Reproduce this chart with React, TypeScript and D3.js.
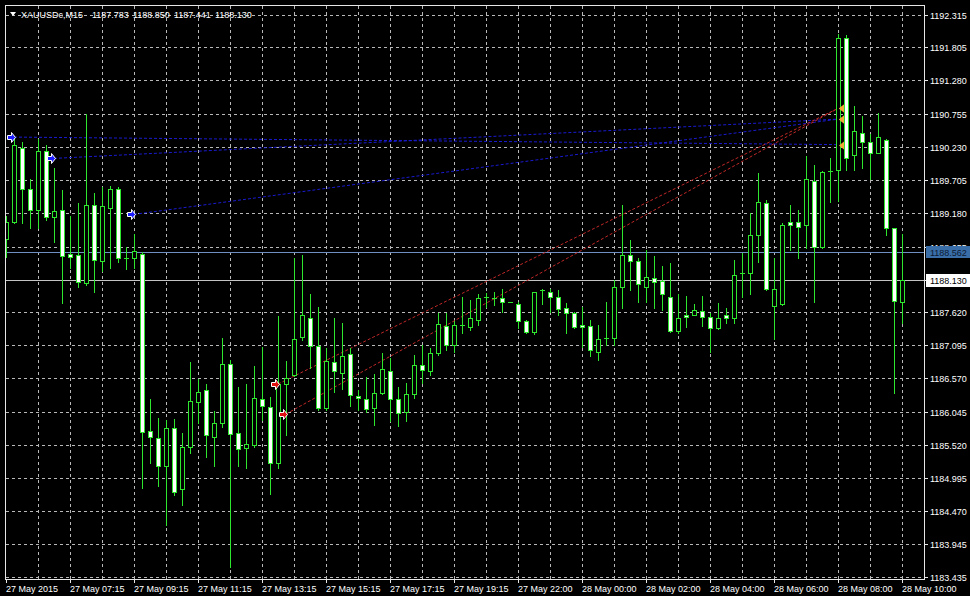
import React from "react";
import * as d3 from "d3";

const opens = [
  1188.78, 1189.05, 1190.22, 1189.56, 1189.23, 1190.16, 1189.12, 1189.24, 1188.54, 1188.52,
  1188.08, 1189.31, 1188.43, 1189.27, 1189.57, 1188.48, 1188.47, 1188.53, 1185.74, 1185.62,
  1185.19, 1185.79, 1184.82, 1185.48, 1186.2, 1186.38, 1185.65, 1185.86, 1186.79, 1185.7,
  1185.47, 1185.51, 1186.25, 1186.11, 1185.24, 1186.48, 1186.62, 1187.22, 1187.53, 1187.08,
  1186.1, 1186.83, 1186.65, 1186.95, 1186.29, 1186.24, 1186.1, 1186.34, 1186.68, 1186.24,
  1186.04, 1186.32, 1186.78, 1186.68, 1186.97, 1187.4, 1187.1, 1187.41, 1187.39, 1187.5,
  1187.85, 1187.84, 1187.84, 1187.77, 1187.74, 1187.48, 1187.31, 1187.96, 1187.94, 1187.86,
  1187.68, 1187.6, 1187.42, 1187.4, 1186.99, 1187.21, 1187.21, 1188.02, 1188.52, 1188.42,
  1188.02, 1188.15, 1188.11, 1187.86, 1187.32, 1187.57, 1187.58, 1187.64, 1187.54, 1187.36,
  1187.57, 1187.52, 1188.24, 1188.24, 1188.84, 1189.34, 1187.72, 1187.74, 1189.05, 1189.04,
  1188.99, 1189.69, 1188.64, 1189.85, 1189.86, 1191.95, 1190.1, 1190.45, 1190.3, 1190.14,
  1190.34, 1188.94, 1187.783,
];
const highs = [
  1189.13, 1190.4, 1190.3, 1189.73, 1190.36, 1190.26, 1189.89, 1189.55, 1189.14, 1189.34,
  1190.75, 1189.5, 1189.59, 1189.61, 1189.59, 1188.65, 1188.86, 1188.57, 1186.24, 1185.94,
  1185.91, 1185.93, 1185.71, 1186.83, 1186.56, 1186.48, 1186.06, 1187.21, 1186.86, 1186.44,
  1186.48, 1186.77, 1187.07, 1186.28, 1187.55, 1186.85, 1188.47, 1188.52, 1187.9, 1187.7,
  1187.05, 1187.52, 1187.45, 1187.05, 1186.39, 1186.59, 1186.64, 1186.97, 1186.89, 1186.44,
  1186.5, 1186.94, 1187.1, 1187.05, 1187.6, 1187.61, 1187.47, 1187.85, 1187.81, 1187.9,
  1187.92, 1187.94, 1187.98, 1187.77, 1187.78, 1187.5, 1187.94, 1187.98, 1187.99, 1187.97,
  1187.76, 1187.62, 1187.7, 1187.5, 1187.42, 1187.77, 1188.12, 1189.31, 1188.76, 1188.47,
  1188.6, 1188.5, 1188.35, 1188.4, 1187.9, 1187.87, 1187.74, 1187.87, 1187.61, 1187.76,
  1187.68, 1188.44, 1188.55, 1189.19, 1189.81, 1189.39, 1188.48, 1189.03, 1189.31, 1189.23,
  1190.08, 1189.95, 1189.85, 1190.05, 1192.01, 1192.0, 1190.88, 1190.72, 1190.44, 1190.77,
  1190.35, 1188.94, 1188.85,
];
const lows = [
  1188.49, 1189.03, 1189.03, 1188.94, 1188.95, 1189.07, 1188.73, 1187.76, 1188.31, 1188.02,
  1188.05, 1187.94, 1188.26, 1188.31, 1188.41, 1188.3, 1188.31, 1184.83, 1185.24, 1184.87,
  1184.25, 1184.73, 1184.57, 1185.39, 1185.87, 1185.33, 1185.19, 1185.8, 1183.59, 1185.19,
  1185.16, 1185.49, 1185.91, 1184.75, 1185.16, 1185.68, 1186.6, 1187.18, 1186.73, 1186.07,
  1186.07, 1186.36, 1186.41, 1186.13, 1186.07, 1186.04, 1185.83, 1186.32, 1185.89, 1185.82,
  1185.89, 1186.26, 1186.5, 1186.62, 1186.94, 1187.02, 1186.99, 1187.28, 1187.33, 1187.41,
  1187.7, 1187.73, 1187.62, 1187.77, 1187.36, 1187.29, 1187.27, 1187.75, 1187.62, 1187.57,
  1187.29, 1187.36, 1187.07, 1186.93, 1186.86, 1187.1, 1187.1, 1187.68, 1187.97, 1187.78,
  1187.78, 1187.69, 1187.65, 1187.31, 1187.29, 1187.38, 1187.57, 1187.4, 1186.99, 1187.35,
  1187.45, 1187.44, 1187.86, 1187.9, 1188.41, 1187.97, 1187.2, 1187.73, 1188.6, 1188.48,
  1188.63, 1187.78, 1188.63, 1189.36, 1189.37, 1189.86, 1189.86, 1189.89, 1189.73, 1190.13,
  1188.84, 1186.34, 1187.441,
];
const closes = [
  1189.05, 1190.26, 1189.57, 1189.23, 1190.16, 1189.12, 1189.22, 1188.5, 1188.49, 1188.1,
  1189.31, 1188.44, 1189.29, 1189.57, 1188.47, 1188.48, 1188.58, 1185.72, 1185.65, 1185.19,
  1185.78, 1184.77, 1185.48, 1186.22, 1186.36, 1185.67, 1185.86, 1186.79, 1185.69, 1185.45,
  1185.54, 1186.26, 1186.13, 1185.24, 1186.48, 1186.57, 1187.19, 1187.57, 1187.08, 1186.1,
  1186.84, 1186.68, 1186.92, 1186.31, 1186.26, 1186.08, 1186.34, 1186.72, 1186.24, 1186.03,
  1186.32, 1186.78, 1186.7, 1186.97, 1187.43, 1187.1, 1187.41, 1187.41, 1187.52, 1187.84,
  1187.85, 1187.84, 1187.77, 1187.77, 1187.48, 1187.3, 1187.93, 1187.96, 1187.86, 1187.66,
  1187.6, 1187.39, 1187.39, 1187.02, 1187.19, 1187.21, 1188.02, 1188.52, 1188.43, 1188.06,
  1188.17, 1188.09, 1187.9, 1187.32, 1187.52, 1187.54, 1187.65, 1187.54, 1187.37, 1187.52,
  1187.52, 1188.21, 1188.24, 1188.84, 1189.36, 1187.98, 1187.99, 1188.99, 1188.99, 1188.96,
  1189.72, 1188.65, 1189.84, 1189.85, 1191.95, 1190.05, 1190.48, 1190.3, 1190.14, 1190.38,
  1188.94, 1187.8, 1188.13,
];

const priceTicks = [
  1192.315, 1191.805, 1191.28, 1190.755, 1190.23, 1189.705, 1189.18, 1188.655, 1188.13,
  1187.62, 1187.095, 1186.57, 1186.045, 1185.52, 1184.995, 1184.47, 1183.945, 1183.435,
];
const timeLabels = [
  "27 May 2015", "27 May 07:15", "27 May 09:15", "27 May 11:15", "27 May 13:15",
  "27 May 15:15", "27 May 17:15", "27 May 19:15", "27 May 22:00", "28 May 00:00",
  "28 May 02:00", "28 May 04:00", "28 May 06:00", "28 May 08:00", "28 May 10:00",
];
const barsPerTimeLabel = 8;
const barsPerGrid = 4;

const headerSymbol = "XAUUSDc,M15";
const headerValues = ["1187.783", "1188.850", "1187.441", "1188.130"];

const bidPrice = 1188.13;
const levelPrice = 1188.562;

const tradeOpenBar = [1, 6, 16, 34, 35];
const tradeOpenPrice = [1190.385, 1190.048, 1189.163, 1186.481, 1186.007];
const tradeCloseBar = [104, 104, 104, 104, 104];
const tradeClosePrice = [1190.266, 1190.669, 1190.669, 1190.839, 1190.839];
const tradeSide = ["buy", "buy", "buy", "sell", "sell"];

const W = 970;
const H = 596;
const L = 6;
const R = 924;
const T = 6;
const B = 579;

const GREEN = "#2ee62e";
const GRID = "#b8b8b8";
const FONT = "'Liberation Sans', Arial, sans-serif";

export default function App() {
  const n = opens.length;
  const x = d3.scaleLinear().domain([0, n - 1]).range([6, 902]);
  const y = d3.scaleLinear().domain([1183.435, 1192.315]).range([576.7, 15]);
  const sx = (i: number) => Math.round(x(i));
  const sy = (p: number) => Math.round(y(p));

  const gridBars = d3.range(barsPerGrid, n, barsPerGrid);
  const levelY = sy(levelPrice);

  const arrow = (cx: number, cy: number, fill: string, key: string) => {
    const pts = [
      [-7, -2], [-3, -2], [-3, -5], [1, 0], [-3, 5], [-3, 2], [-7, 2],
    ]
      .map(([a, b]) => `${cx + a + 0.5},${cy + b + 0.5}`)
      .join(" ");
    return <polygon key={key} points={pts} fill={fill} stroke="#ffffff" strokeWidth={1} />;
  };

  return (
    <svg
      width={W}
      height={H}
      style={{ position: "absolute", left: 0, top: 0, background: "#000" }}
      fontFamily={FONT}
    >
      <defs>
        <clipPath id="plot">
          <rect x={L} y={T} width={R - L} height={B - T} />
        </clipPath>
        <clipPath id="aboveLevel">
          <rect x={R} y={0} width={W - R} height={levelY - 6} />
        </clipPath>
      </defs>
      <rect x={0} y={0} width={W} height={H} fill="#000" />

      {/* grid */}
      <g stroke={GRID} strokeWidth={1} strokeDasharray="3,3" shapeRendering="crispEdges">
        {priceTicks.map((p) => (
          <line key={"h" + p} x1={L} x2={R} y1={sy(p) + 0.5} y2={sy(p) + 0.5} />
        ))}
        {gridBars.map((i) => (
          <line key={"v" + i} x1={sx(i) + 0.5} x2={sx(i) + 0.5} y1={T} y2={B} />
        ))}
      </g>

      {/* level lines */}
      <line x1={L} x2={R} y1={levelY + 0.5} y2={levelY + 0.5} stroke="#6f8fc4" strokeWidth={1} shapeRendering="crispEdges" />
      <line x1={L} x2={R} y1={sy(bidPrice) + 0.5} y2={sy(bidPrice) + 0.5} stroke="#c4c4c4" strokeWidth={1} shapeRendering="crispEdges" />

      <g clipPath="url(#plot)">
        {/* trade lines */}
        {tradeOpenBar.map((ob, k) => (
          <line
            key={"t" + k}
            x1={x(ob)}
            y1={y(tradeOpenPrice[k])}
            x2={x(tradeCloseBar[k])}
            y2={y(tradeClosePrice[k])}
            stroke={tradeSide[k] === "buy" ? "#1a1ad0" : "#c02828"}
            strokeWidth={1}
            strokeDasharray="3,2"
          />
        ))}

        {/* candles */}
        {opens.map((o, i) => {
          const c = closes[i];
          const cx = sx(i);
          const yo = sy(o);
          const yc = sy(c);
          const top = Math.min(yo, yc);
          const bot = Math.max(yo, yc);
          const bull = c > o;
          return (
            <g key={"c" + i} shapeRendering="crispEdges">
              <line x1={cx + 0.5} x2={cx + 0.5} y1={sy(highs[i])} y2={sy(lows[i]) + 1} stroke={GREEN} />
              {bot - top >= 2 ? (
                <rect x={cx - 2 + 0.5} y={top + 0.5} width={4} height={bot - top} fill={bull ? "#000" : "#ffffff"} stroke={GREEN} />
              ) : (
                <line x1={cx - 2} x2={cx + 3} y1={top + 0.5} y2={top + 0.5} stroke={GREEN} />
              )}
            </g>
          );
        })}

        {/* trade markers */}
        {tradeOpenBar.map((ob, k) =>
          arrow(sx(ob), sy(tradeOpenPrice[k]), tradeSide[k] === "buy" ? "#1c1cff" : "#e01010", "a" + k)
        )}
        {tradeCloseBar.map((cb, k) => {
          const cx = sx(cb) + 1;
          const cy = sy(tradeClosePrice[k]);
          return (
            <polygon
              key={"m" + k}
              points={`${cx},${cy + 0.5} ${cx + 5},${cy - 3.5} ${cx + 5},${cy + 4.5}`}
              fill="#f0a838"
            />
          );
        })}
      </g>

      {/* borders */}
      <g stroke="#e6e6e6" strokeWidth={1} shapeRendering="crispEdges" fill="none">
        <line x1={L - 0.5} x2={L - 0.5} y1={T - 1} y2={B + 1} />
        <line x1={L - 1} x2={R + 1} y1={T - 0.5} y2={T - 0.5} />
        <line x1={R + 0.5} x2={R + 0.5} y1={T - 1} y2={B + 1} />
        <line x1={L - 1} x2={R + 1} y1={B + 0.5} y2={B + 0.5} />
      </g>

      {/* right axis */}
      <g fill="#ffffff" fontSize={9}>
        {priceTicks.map((p) => {
          const hiddenByBid = Math.abs(p - bidPrice) < 1e-6;
          const nearLevel = Math.abs(sy(p) - levelY) < 12;
          if (hiddenByBid) {
            return (
              <line key={"pt" + p} x1={R} x2={R + 4} y1={sy(p) + 0.5} y2={sy(p) + 0.5} stroke="#e6e6e6" shapeRendering="crispEdges" />
            );
          }
          return (
            <g key={"pt" + p}>
              <line x1={R} x2={R + 4} y1={sy(p) + 0.5} y2={sy(p) + 0.5} stroke="#e6e6e6" shapeRendering="crispEdges" />
              <text x={930} y={sy(p) + 3.5} clipPath={nearLevel ? "url(#aboveLevel)" : undefined}>
                {p.toFixed(3)}
              </text>
            </g>
          );
        })}
      </g>

      {/* level label */}
      <rect x={926} y={levelY - 6} width={44} height={12} fill="#3a6ea8" />
      <text x={930} y={levelY + 3.5} fill="#0c1a30" fontSize={9}>{levelPrice.toFixed(3)}</text>
      {/* bid label */}
      <rect x={926} y={sy(bidPrice) - 6} width={44} height={13} fill="#ffffff" />
      <text x={930} y={sy(bidPrice) + 3.5} fill="#000" fontSize={9}>{bidPrice.toFixed(3)}</text>

      {/* bottom axis */}
      <g fill="#ffffff" fontSize={9}>
        {timeLabels.map((t, k) => {
          const xi = sx(k * barsPerTimeLabel);
          return (
            <g key={"tl" + k}>
              <line x1={xi + 0.5} x2={xi + 0.5} y1={B} y2={B + 4} stroke="#e6e6e6" shapeRendering="crispEdges" />
              <text x={xi} y={592}>{t}</text>
            </g>
          );
        })}
      </g>

      {/* header */}
      <polygon points="10,12 16,12 13,16" fill="#ffffff" />
      <g fill="#ffffff" fontSize={9}>
        <text x={21} y={18}>{headerSymbol}</text>
        {headerValues.map((v, k) => (
          <text key={"hv" + k} x={92 + k * 41} y={18}>{v}</text>
        ))}
      </g>
    </svg>
  );
}
